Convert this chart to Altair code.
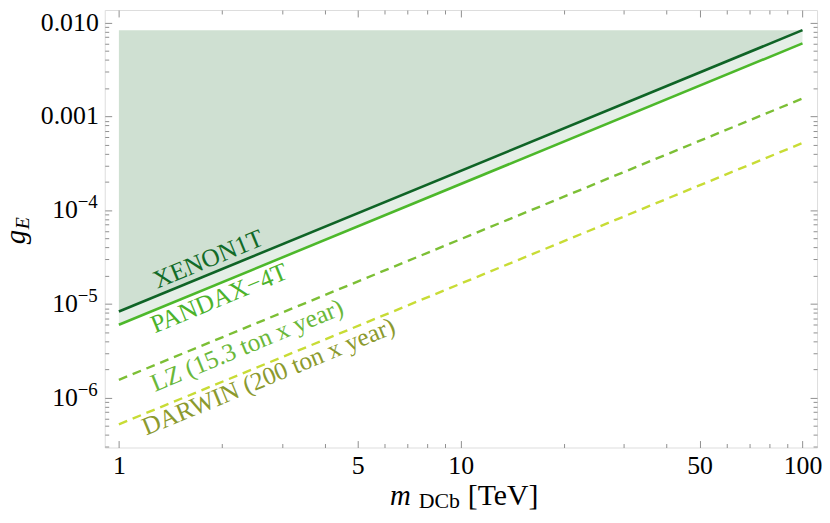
import altair as alt
import pandas as pd

# ---- data ----
mass = [1, 100]
xenon1t = [8.3e-6, 8.3e-3]
pandax4t = [6.0e-6, 6.0e-3]
lz = [1.55e-6, 1.55e-3]
darwin = [5.2e-7, 5.2e-4]
shade_top = [8.3e-3, 8.3e-3]

label_names = ["XENON1T", "PANDAX\u22124T", "LZ (15.3 ton x year)", "DARWIN (200 ton x year)"]
label_x = [1.295, 1.275, 1.275, 1.203]
label_y = [1.45e-5, 4.85e-6, 1.15e-6, 3.94e-7]
label_colors = ["#116b28", "#4cb32b", "#6ab83a", "#8c9a2e"]

x_major = [1, 5, 10, 50, 100]
x_minor = [2, 3, 4, 6, 7, 8, 9, 20, 30, 40, 60, 70, 80, 90]
y_major = [1e-6, 1e-5, 1e-4, 1e-3, 1e-2]
y_minor = [k * 10.0 ** e for e in range(-7, -2) for k in range(2, 10) if k * 10.0 ** e > 2.94e-7]

y_dec_vals = [1e-2, 1e-3]
y_dec_text = ["0.010", "0.001"]
y_pow_vals = [1e-4, 1e-5, 1e-6]
y_pow_base = ["10", "10", "10"]
y_pow_exp = ["\u22124", "\u22125", "\u22126"]

W, H = 718, 441
TICK = "#8f8f8f"
FONT = "Liberation Serif"

df = pd.DataFrame({"m": mass, "xenon": xenon1t, "pandax": pandax4t,
                   "lz": lz, "darwin": darwin, "top": shade_top})
lab = pd.DataFrame({"name": label_names, "lx": label_x, "ly": label_y, "c": label_colors})
dec_df = pd.DataFrame({"v": y_dec_vals, "t": y_dec_text})
pow_df = pd.DataFrame({"v": y_pow_vals, "b": y_pow_base, "e": y_pow_exp})

xs = alt.Scale(type="log", domain=[0.909, 110.3])
ys = alt.Scale(type="log", domain=[2.94e-7, 0.01362])


def tick_axis(orient, offset, values, size):
    return alt.Axis(orient=orient, offset=offset, values=values, tickSize=size,
                    labels=False, domain=False, grid=False, ticks=True,
                    tickColor=TICK, tickWidth=1, title=None)


ax_x_labels = alt.Axis(orient="bottom", values=x_major, ticks=False, domain=False, grid=False,
                       labels=True, labelPadding=5, labelFont=FONT, labelFontSize=26,
                       labelColor="black", format="~g", labelFlush=False, labelOverlap=False,
                       title=None)

base = alt.Chart(df)

area_top = base.mark_area(color="#cfe0d2").encode(
    x=alt.X("m:Q", scale=xs, axis=ax_x_labels),
    y=alt.Y("xenon:Q", scale=ys, axis=None),
    y2="top:Q")

area_mid = base.mark_area(color="#e5efe7").encode(
    x=alt.X("m:Q", scale=xs, axis=tick_axis("top", -H, x_major, 7)),
    y=alt.Y("pandax:Q", scale=ys, axis=tick_axis("right", -W, y_major, 7)),
    y2="xenon:Q")

line_x = base.mark_line(color="#0f6426", strokeWidth=2.6).encode(
    x=alt.X("m:Q", scale=xs, axis=tick_axis("top", -H, x_minor, 4)),
    y=alt.Y("xenon:Q", scale=ys, axis=tick_axis("right", -W, y_minor, 4)))

line_p = base.mark_line(color="#4db82b", strokeWidth=2.6).encode(
    x=alt.X("m:Q", scale=xs, axis=tick_axis("bottom", -H, x_major, 7)),
    y=alt.Y("pandax:Q", scale=ys, axis=tick_axis("left", -W, y_major, 7)))

line_lz = base.mark_line(color="#7cbf35", strokeWidth=2.4, strokeDash=[9, 6]).encode(
    x=alt.X("m:Q", scale=xs, axis=tick_axis("bottom", -H, x_minor, 4)),
    y=alt.Y("lz:Q", scale=ys, axis=tick_axis("left", -W, y_minor, 4)))

line_d = base.mark_line(color="#c8dc35", strokeWidth=2.4, strokeDash=[9, 6]).encode(
    x=alt.X("m:Q", scale=xs, axis=None),
    y=alt.Y("darwin:Q", scale=ys, axis=None))

labels = alt.Chart(lab).mark_text(align="left", baseline="alphabetic", angle=337.6,
                                  font=FONT, fontSize=25.5).encode(
    x=alt.X("lx:Q", scale=xs, axis=None),
    y=alt.Y("ly:Q", scale=ys, axis=None),
    text="name:N",
    color=alt.Color("c:N", scale=None))

# y tick labels (with real superscripts)
ylab_dec = alt.Chart(dec_df).mark_text(align="right", baseline="middle", font=FONT,
                                       fontSize=26, color="black").encode(
    x=alt.value(-6), y=alt.Y("v:Q", scale=ys, axis=None), text="t:N")
ylab_base = alt.Chart(pow_df).mark_text(align="right", baseline="middle", font=FONT,
                                        fontSize=26, color="black").encode(
    x=alt.value(-27), y=alt.Y("v:Q", scale=ys, axis=None), text="b:N")
ylab_exp = alt.Chart(pow_df).mark_text(align="right", baseline="middle", font=FONT,
                                       fontSize=19, color="black", dy=-8).encode(
    x=alt.value(-7), y=alt.Y("v:Q", scale=ys, axis=None), text="e:N")

t_m = alt.Chart(pd.DataFrame({"t": ["m"]})).mark_text(
    align="left", baseline="alphabetic", font=FONT, fontStyle="italic", fontSize=29,
    color="black").encode(x=alt.value(287.5), y=alt.value(499), text="t:N")
t_dcb = alt.Chart(pd.DataFrame({"t": ["DCb"]})).mark_text(
    align="left", baseline="alphabetic", font=FONT, fontSize=22,
    color="black").encode(x=alt.value(316.5), y=alt.value(502), text="t:N")
t_tev = alt.Chart(pd.DataFrame({"t": ["[TeV]"]})).mark_text(
    align="left", baseline="alphabetic", font=FONT, fontSize=30,
    color="black").encode(x=alt.value(366), y=alt.value(499), text="t:N")
t_g = alt.Chart(pd.DataFrame({"t": ["g"]})).mark_text(
    align="left", baseline="alphabetic", angle=270, font=FONT, fontStyle="italic",
    fontSize=29, color="black").encode(x=alt.value(-80), y=alt.value(236), text="t:N")
t_e = alt.Chart(pd.DataFrame({"t": ["E"]})).mark_text(
    align="left", baseline="alphabetic", angle=270, font=FONT, fontStyle="italic",
    fontSize=20, color="black").encode(x=alt.value(-76), y=alt.value(221), text="t:N")

chart = alt.layer(
    area_top, area_mid, line_x, line_p, line_lz, line_d, labels,
    ylab_dec, ylab_base, ylab_exp,
    t_m, t_dcb, t_tev, t_g, t_e
).resolve_axis(x="independent", y="independent").properties(
    width=W, height=H,
    autosize=alt.AutoSizeParams(type="none"),
    padding={"left": 97.5, "top": 0, "right": 5, "bottom": 66},
).configure_view(stroke="#8f8f8f", strokeWidth=1.2).configure(background="white")

chart.save("out.html", embed_options={"renderer": "svg", "actions": False})
